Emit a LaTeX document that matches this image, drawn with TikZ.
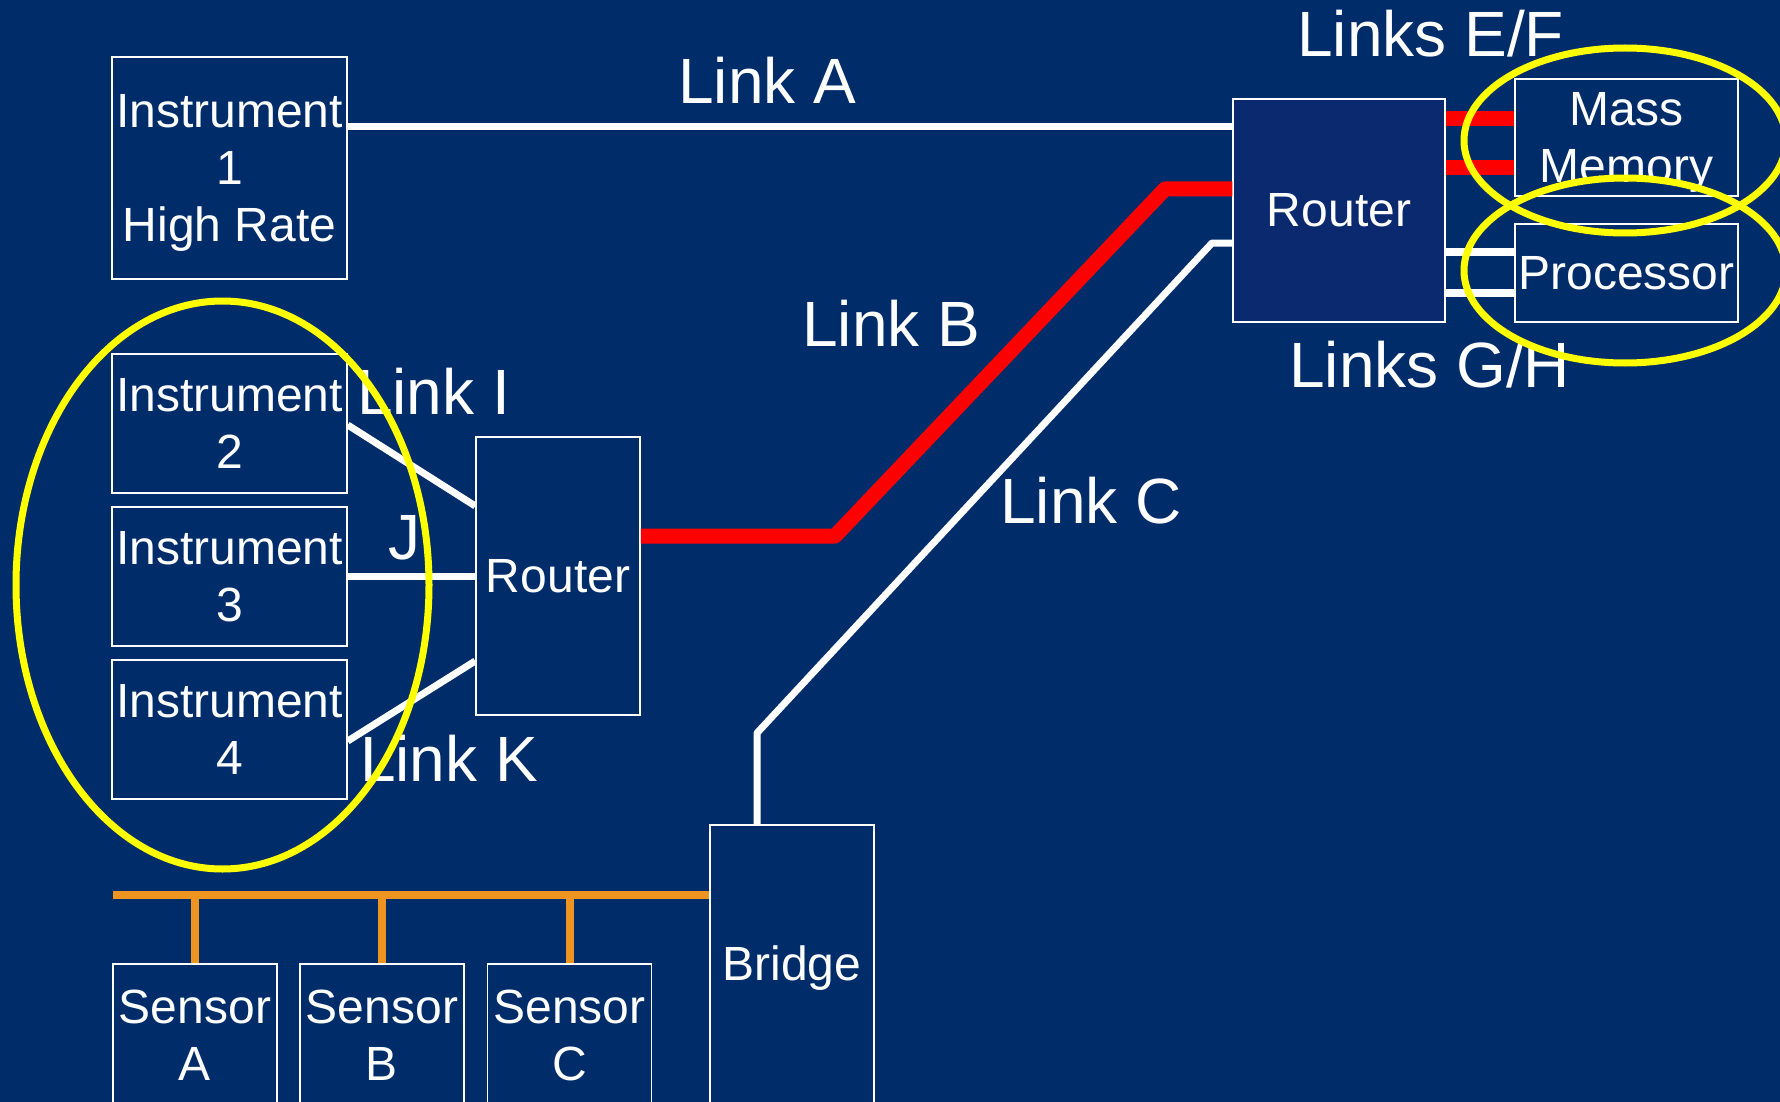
\documentclass[tikz,border=0pt]{standalone}
\usepackage{fontspec}
\setmainfont{Liberation Sans}
\definecolor{bg}{RGB}{0,45,106}
\definecolor{rfill}{RGB}{11,41,111}
\definecolor{busor}{RGB}{238,148,32}
\definecolor{yel}{RGB}{255,255,0}
\newcommand\bxfont{\fontsize{48}{57}\selectfont}
\newcommand\lkfont{\fontsize{64}{76}\selectfont}
\begin{document}
\begin{tikzpicture}[x=1pt,y=-1pt,
  box/.style={draw=white, line width=1.5pt, fill=bg, text=white, inner sep=0pt, align=center, font=\bxfont},
  lbl/.style={text=white, inner sep=0pt, anchor=base west, font=\lkfont},
  wl/.style={draw=white, line width=7pt, line join=round},
  rl/.style={draw=red, line width=15pt, line join=round},
  ol/.style={draw=busor, line width=8pt},
  yl/.style={draw=yel, line width=7pt}]
\useasboundingbox (0,0) rectangle (1780,1102);
\clip (0,0) rectangle (1780,1102);
\fill[bg] (0,0) rectangle (1780,1102);

% boxes
\node[box, minimum width=235, minimum height=222, text depth=0pt] (i1) at (229.5,168) {Instrument\\1\\High Rate};
\node[box, minimum width=235, minimum height=139] (i2) at (229.5,423.5) {Instrument\\2};
\node[box, minimum width=235, minimum height=139] (i3) at (229.5,576.5) {Instrument\\3};
\node[box, minimum width=235, minimum height=139] (i4) at (229.5,729.5) {Instrument\\4};
\node[box, minimum width=164, minimum height=278] (lr) at (558,576) {Router};
\node[box, fill=rfill, minimum width=212, minimum height=223] (rr) at (1339,210.5) {Router};
\node[box, minimum width=223, minimum height=117, text depth=0pt] (mm) at (1626.5,137.5) {Mass\\Memory};
\node[box, minimum width=223, minimum height=98] (pr) at (1626.5,273) {Processor};
\node[box, minimum width=164, minimum height=287] (br) at (792,968.5) {Bridge};
\node[box, minimum width=164, minimum height=142] (sa) at (195,1035) {Sensor\\A};
\node[box, minimum width=164, minimum height=142] (sb) at (382,1035) {Sensor\\B};
\node[box, minimum width=164, minimum height=142] (sc) at (569.5,1035) {Sensor\\C};

% bus
\coordinate (busL) at (113,895);
\draw[ol] (busL) -- (busL -| br.west);
\draw[ol] (sa.north) -- (sa.north |- busL);
\draw[ol] (sb.north) -- (sb.north |- busL);
\draw[ol] (sc.north) -- (sc.north |- busL);

% links
\draw[wl] (i1.east |- 0,127) -- (rr.west |- 0,127);
\draw[rl] (lr.east |- 0,536) -- (835,536) -- (1165,189) -- (rr.west |- 0,189);
\draw[wl] (br.north -| 757,0) -- (757,733) -- (1212,243) -- (rr.west |- 0,243);
\draw[wl] (i2.east |- 0,425) -- (lr.west |- 0,506);
\draw[wl] (i3.east) -- (i3.east -| lr.west);
\draw[wl] (i4.east |- 0,741) -- (lr.west |- 0,661);
\draw[rl] (rr.east |- 0,119) -- (mm.west |- 0,119);
\draw[rl] (rr.east |- 0,168) -- (mm.west |- 0,168);
\draw[wl, line width=8pt] (rr.east |- 0,252) -- (pr.west |- 0,252);
\draw[wl, line width=8pt] (rr.east |- 0,293) -- (pr.west |- 0,293);

% labels
\node[lbl] (la) at (678,104) {Link A};
\node[lbl] (lef) at (1297,57) {Links E/F};
\node[lbl] (lgh) at (1289,387) {Links G/H};
\node[lbl] (lb) at (802,346) {Link B};
\node[lbl] (lc) at (1000,523) {Link C};
\node[lbl] (li) at (357,414) {Link I};
\node[lbl] (lj) at (388,559) {J};
\node[lbl] (lk) at (360,781) {Link K};

% highlight ellipses
\draw[yl] (222.5,585) ellipse [x radius=206.5pt, y radius=284pt];
\draw[yl] (1625,140.5) ellipse [x radius=161pt, y radius=92.5pt];
\draw[yl] (1625,270.5) ellipse [x radius=161pt, y radius=92.5pt];
\end{tikzpicture}
\end{document}
